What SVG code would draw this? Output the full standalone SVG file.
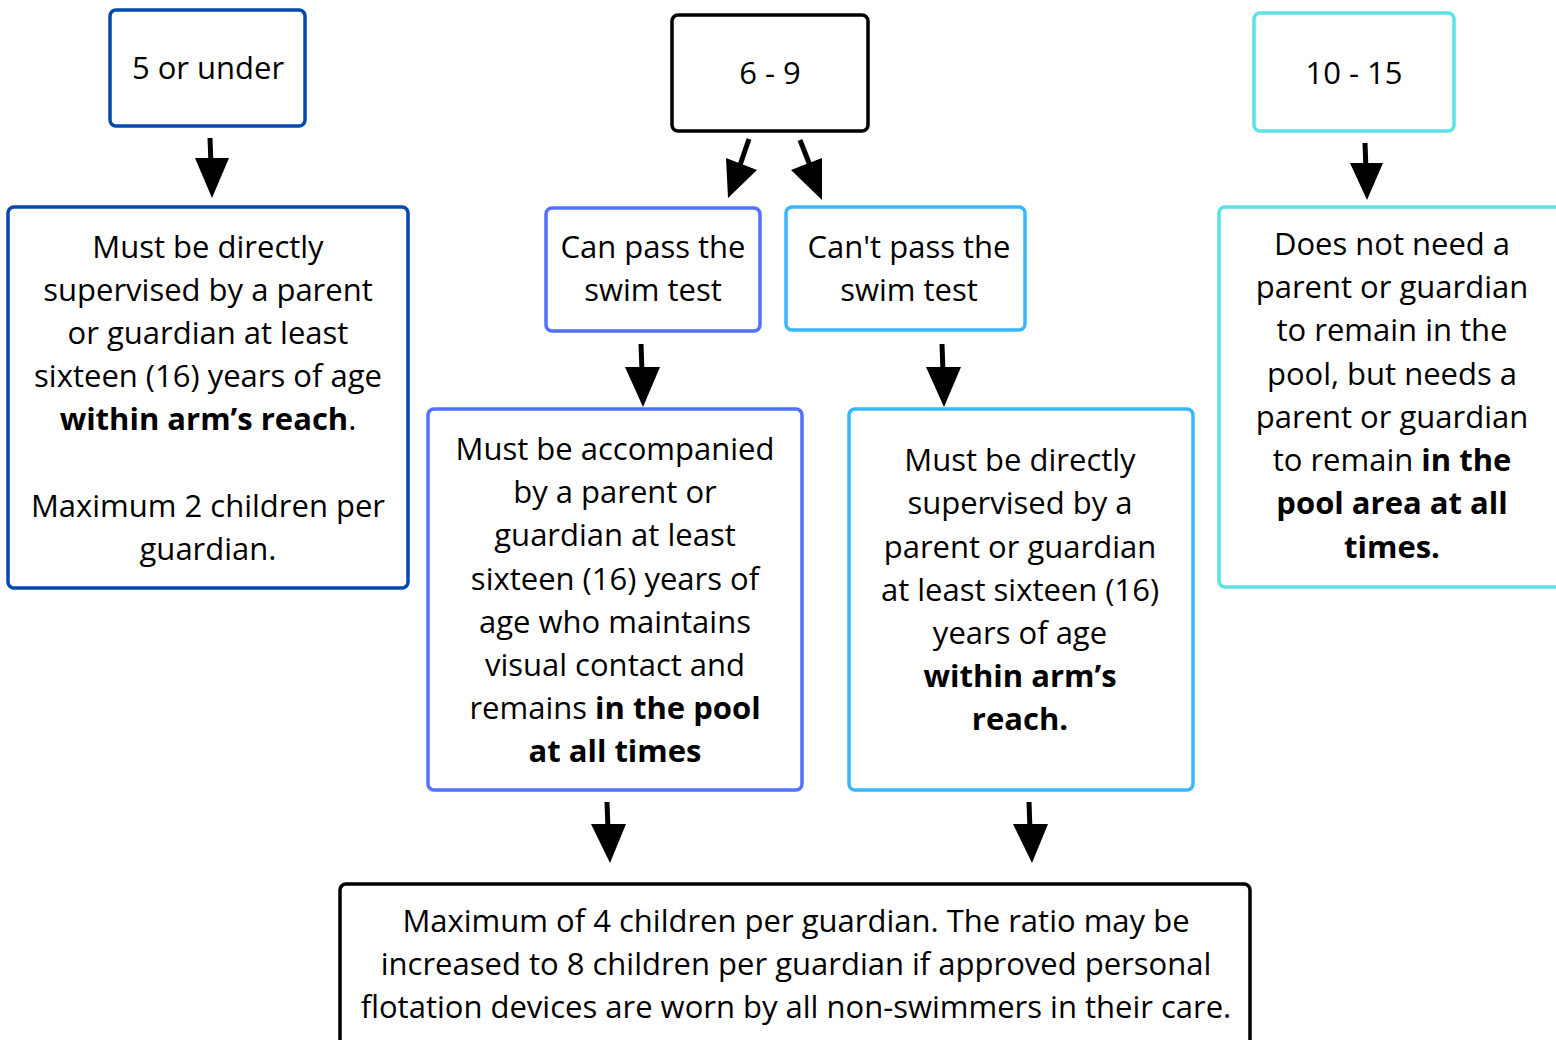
<svg xmlns="http://www.w3.org/2000/svg" width="1556" height="1040" viewBox="0 0 1556 1040">
<defs>
<style>
.box{fill:#fff;stroke-width:3.5}
.t{font-family:"Open Sans","Noto Sans","DejaVu Sans",sans-serif;font-size:31px;fill:#000;text-anchor:middle}
.b{font-weight:700}
.c line{stroke:#000;stroke-width:5}
.c path{fill:#000}
</style>
</defs>
<rect width="1556" height="1040" fill="#fff"/>
<g id="n-under5"><rect class="box" x="110" y="10" width="195" height="116" rx="6" stroke="#004aad"/><text class="t" x="208" y="79">5 or under</text></g>
<g id="n-6-9"><rect class="box" x="672" y="15" width="196" height="116" rx="6" stroke="#000"/><text class="t" x="770" y="84">6 - 9</text></g>
<g id="n-10-15"><rect class="box" x="1254" y="13" width="200" height="118" rx="6" stroke="#5ce1e6"/><text class="t" x="1354" y="84">10 - 15</text></g>
<g id="n-under5-rule"><rect class="box" x="8" y="207" width="400" height="381" rx="6" stroke="#004aad"/>
<text class="t" x="208" y="258">Must be directly</text>
<text class="t" x="208" y="301">supervised by a parent</text>
<text class="t" x="208" y="344">or guardian at least</text>
<text class="t" x="208" y="387">sixteen (16) years of age</text>
<text class="t" x="208" y="430"><tspan class="b">within arm’s reach</tspan>.</text>
<text class="t" x="208" y="517">Maximum 2 children per</text>
<text class="t" x="208" y="560">guardian.</text></g>
<g id="n-canpass"><rect class="box" x="546" y="208" width="214" height="123" rx="6" stroke="#5271ff"/>
<text class="t" x="653" y="258">Can pass the</text><text class="t" x="653" y="301">swim test</text></g>
<g id="n-cantpass"><rect class="box" x="786" y="207" width="239" height="123" rx="6" stroke="#38b6ff"/>
<text class="t" x="909" y="258">Can't pass the</text><text class="t" x="909" y="301">swim test</text></g>
<g id="n-10-15-rule"><rect class="box" x="1219" y="207" width="345" height="380" rx="6" stroke="#5ce1e6"/>
<text class="t" x="1392" y="255">Does not need a</text>
<text class="t" x="1392" y="298">parent or guardian</text>
<text class="t" x="1392" y="341">to remain in the</text>
<text class="t" x="1392" y="385">pool, but needs a</text>
<text class="t" x="1392" y="428">parent or guardian</text>
<text class="t" x="1392" y="471">to remain <tspan class="b">in the</tspan></text>
<text class="t b" x="1392" y="514">pool area at all</text>
<text class="t b" x="1392" y="558">times.</text></g>
<g id="n-accompanied"><rect class="box" x="428" y="409" width="374" height="381" rx="6" stroke="#5271ff"/>
<text class="t" x="615" y="460">Must be accompanied</text>
<text class="t" x="615" y="503">by a parent or</text>
<text class="t" x="615" y="546">guardian at least</text>
<text class="t" x="615" y="590">sixteen (16) years of</text>
<text class="t" x="615" y="633">age who maintains</text>
<text class="t" x="615" y="676">visual contact and</text>
<text class="t" x="615" y="719">remains <tspan class="b">in the pool</tspan></text>
<text class="t b" x="615" y="762">at all times</text></g>
<g id="n-supervised"><rect class="box" x="849" y="409" width="344" height="381" rx="6" stroke="#38b6ff"/>
<text class="t" x="1020" y="471">Must be directly</text>
<text class="t" x="1020" y="514">supervised by a</text>
<text class="t" x="1020" y="558">parent or guardian</text>
<text class="t" x="1020" y="601">at least sixteen (16)</text>
<text class="t" x="1020" y="644">years of age</text>
<text class="t b" x="1020" y="687">within arm’s</text>
<text class="t b" x="1020" y="730">reach.</text></g>
<g id="n-ratio"><rect class="box" x="340" y="884" width="910" height="170" rx="6" stroke="#000"/>
<text class="t" x="796" y="932">Maximum of 4 children per guardian. The ratio may be</text>
<text class="t" x="796" y="975">increased to 8 children per guardian if approved personal</text>
<text class="t" x="796" y="1018">flotation devices are worn by all non-swimmers in their care.</text></g>
<g id="connectors" class="c">
<line x1="210" y1="138" x2="211" y2="165"/><path d="M195,158 L229,158 L212,198 Z"/>
<line x1="749" y1="139" x2="739" y2="168"/><path d="M726,158 L757,170 L728,198 Z"/>
<line x1="800" y1="140" x2="811" y2="168"/><path d="M791,170 L822,158 L822,200 Z"/>
<line x1="1365" y1="143" x2="1366" y2="170"/><path d="M1350,163 L1383,163 L1367,200 Z"/>
<line x1="641" y1="344" x2="642" y2="372"/><path d="M625,367 L660,367 L643,407 Z"/>
<line x1="942" y1="344" x2="943" y2="372"/><path d="M926,367 L961,367 L944,407 Z"/>
<line x1="607" y1="802" x2="608" y2="830"/><path d="M591,824 L626,824 L610,863 Z"/>
<line x1="1029" y1="802" x2="1030" y2="830"/><path d="M1013,824 L1048,824 L1032,863 Z"/>
</g>
</svg>
